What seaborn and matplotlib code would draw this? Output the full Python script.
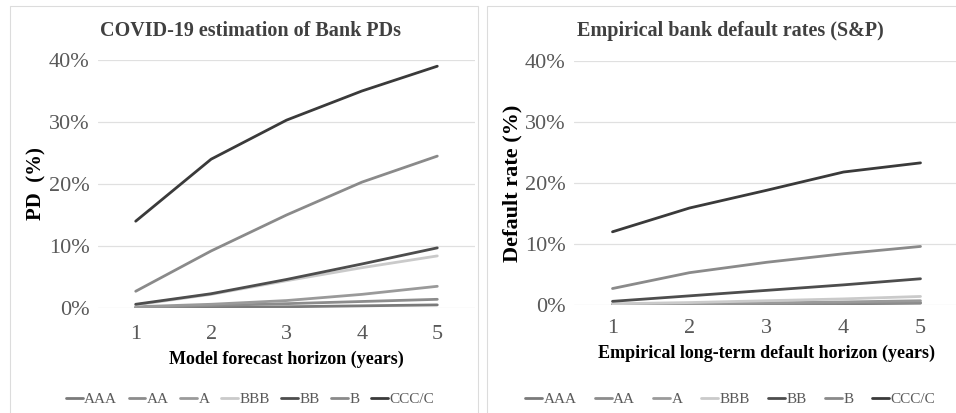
import matplotlib
matplotlib.use("Agg")
import matplotlib.pyplot as plt
import seaborn as sns
import pandas as pd
from matplotlib.patches import Rectangle
from matplotlib.ticker import FuncFormatter

sns.set_theme(style="white")
plt.rcParams['font.family'] = ['Liberation Serif', 'DejaVu Serif']

horizons = [1, 2, 3, 4, 5]
ratings = ["AAA", "AA", "A", "BBB", "BB", "B", "CCC/C"]
colors = ["#7a7a7a", "#8c8c8c", "#9a9a9a", "#cacaca", "#4d4d4d", "#8a8a8a", "#3a3a3a"]

model_AAA = [0.05, 0.1, 0.2, 0.35, 0.5]
model_AA = [0.1, 0.4, 0.7, 1.05, 1.4]
model_A = [0.2, 0.6, 1.2, 2.2, 3.5]
model_BBB = [0.5, 2.2, 4.4, 6.5, 8.4]
model_BB = [0.6, 2.3, 4.6, 7.1, 9.7]
model_B = [2.7, 9.2, 15.0, 20.3, 24.5]
model_CCC = [14.0, 24.0, 30.3, 35.0, 39.0]

emp_AAA = [0.0, 0.05, 0.1, 0.2, 0.3]
emp_AA = [0.05, 0.1, 0.2, 0.3, 0.4]
emp_A = [0.1, 0.2, 0.35, 0.5, 0.7]
emp_BBB = [0.2, 0.4, 0.7, 1.0, 1.4]
emp_BB = [0.6, 1.5, 2.4, 3.3, 4.3]
emp_B = [2.7, 5.3, 7.0, 8.4, 9.6]
emp_CCC = [12.0, 15.9, 18.8, 21.8, 23.3]

model_series = [model_AAA, model_AA, model_A, model_BBB, model_BB, model_B, model_CCC]
emp_series = [emp_AAA, emp_AA, emp_A, emp_BBB, emp_BB, emp_B, emp_CCC]


def to_long(series):
    rows = []
    for r, vals in zip(ratings, series):
        for h, v in zip(horizons, vals):
            rows.append({"horizon": h, "value": v, "rating": r})
    return pd.DataFrame(rows)


fig = plt.figure(figsize=(9.56, 4.13), dpi=100)
W, H = 956, 413

# panel borders
fig.add_artist(Rectangle((10 / W, -0.01), (478 - 10) / W, (413 - 6) / H + 0.01,
                         transform=fig.transFigure, fill=False, ec="#dcdcdc", lw=0.8))
fig.add_artist(Rectangle((487 / W, -0.01), (960 - 487) / W, (413 - 6) / H + 0.01,
                         transform=fig.transFigure, fill=False, ec="#dcdcdc", lw=0.8))

ax1 = fig.add_axes([98 / W, 1 - 308 / H, 377 / W, 248 / H])
ax2 = fig.add_axes([574 / W, 1 - 305 / H, 385 / W, 244 / H])

palette = dict(zip(ratings, colors))

configs = [
    (ax1, model_series, "COVID-19 estimation of Bank PDs", "PD  (%)",
     "Model forecast horizon (years)", 250, 15, 12, 0.75),
    (ax2, emp_series, "Empirical bank default rates (S&P)", "Default rate (%)",
     "Empirical long-term default horizon (years)", 730, 16, 10, 1.2),
]

for ax, series, title, ylab, xlab, cx, ylfs, xpad, colsp in configs:
    df = to_long(series)
    sns.lineplot(data=df, x="horizon", y="value", hue="rating", hue_order=ratings,
                 palette=palette, linewidth=2.0, ax=ax, legend=False)
    ax.set_xlim(0.5, 5.5)
    ax.set_ylim(0, 40)
    ax.set_yticks([0, 10, 20, 30, 40])
    ax.set_xticks(horizons)
    ax.yaxis.set_major_formatter(FuncFormatter(lambda v, p: f"{int(v)}%"))
    ax.grid(axis="y", color="#e0e0e0", lw=0.9)
    ax.set_axisbelow(True)
    for s in ax.spines.values():
        s.set_visible(False)
    ax.tick_params(axis="both", length=0, labelsize=16, labelcolor="#595959")
    ax.tick_params(axis="y", pad=6)
    ax.tick_params(axis="x", pad=xpad)
    ax.set_xlabel(xlab, fontsize=13, fontweight="bold", color="black", labelpad=5)
    ax.set_ylabel(ylab, fontsize=ylfs, fontweight="bold", color="black", labelpad=2)
    fig.text(cx / W, 1 - 31 / H, title, ha="center", va="center", fontsize=14.5,
             fontweight="bold", color="#404040")
    handles = [plt.Line2D([], [], color=c, lw=2.0) for c in colors]
    ax.legend(handles, ratings, loc="center", bbox_to_anchor=(cx / W, 1 - 399 / H),
              bbox_transform=fig.transFigure, ncol=7, frameon=False,
              handlelength=1.1, handletextpad=0.1, columnspacing=colsp,
              fontsize=11, labelcolor="#595959")

fig.savefig("out.png", dpi=100)
